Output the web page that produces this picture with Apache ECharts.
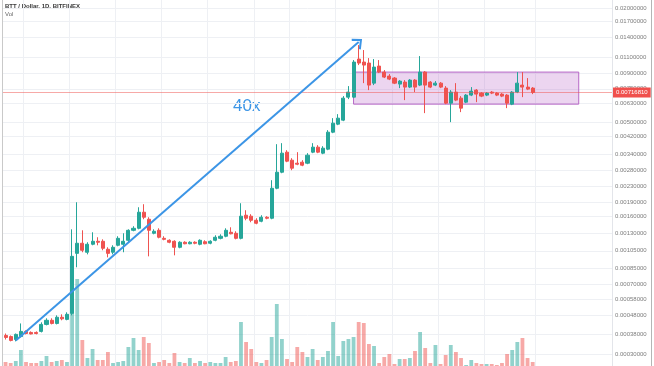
<!DOCTYPE html>
<html><head><meta charset="utf-8">
<script src="https://cdn.jsdelivr.net/npm/echarts@6/dist/echarts.min.js"></script>
<style>html,body{margin:0;padding:0;background:#fff}#c{width:654px;height:366px}</style>
</head><body><div id="c"></div>
<script>
// ---- data ----
const opens = [0.000376,0.000371,0.000358,0.000371,0.000395,0.000390,0.000390,0.000395,0.000430,0.000452,
0.000435,0.000469,0.000457,0.000492,0.001018,0.001151,0.001032,0.001137,0.001179,0.001179,
0.001070,0.001032,0.001123,0.001137,0.001193,0.001347,0.001380,0.001677,0.001540,0.001299,
0.001347,0.001222,0.001193,0.001179,0.001096,0.001165,0.001144,0.001165,0.001137,0.001172,
0.001151,0.001193,0.001222,0.001253,0.001315,0.001299,0.001222,0.001617,0.001598,0.001521,
0.001503,0.001578,0.001559,0.002243,0.002725,0.003475,0.003153,0.003040,0.003077,0.003040,
0.003475,0.003693,0.003433,0.003604,0.004429,0.004882,0.005125,0.006776,0.006776,0.010751,
0.010367,0.010242,0.008030,0.009875,0.009181,0.008746,0.008537,0.007936,0.008132,0.007652,
0.008331,0.007840,0.009181,0.008132,0.007840,0.008030,0.007560,0.006300,0.007202,0.006694,
0.006377,0.006943,0.007378,0.007114,0.006943,0.007202,0.007114,0.007028,0.006943,0.006224,
0.007202,0.007840,0.007652,0.007560];
const closes = [0.000367,0.000354,0.000381,0.000395,0.000385,0.000383,0.000385,0.000430,0.000452,0.000435,
0.000469,0.000460,0.000486,0.000982,0.001151,0.001057,0.001137,0.001179,0.001165,0.001083,
0.001018,0.001096,0.001222,0.001179,0.001347,0.001380,0.001677,0.001578,0.001347,0.001331,
0.001238,0.001207,0.001165,0.001096,0.001165,0.001144,0.001165,0.001151,0.001193,0.001144,
0.001179,0.001238,0.001253,0.001347,0.001291,0.001222,0.001598,0.001559,0.001521,0.001467,
0.001578,0.001559,0.002243,0.002725,0.003433,0.003115,0.002861,0.003003,0.002967,0.003350,
0.003693,0.003475,0.003648,0.004429,0.004941,0.005251,0.006694,0.007202,0.010367,0.010242,
0.009996,0.007840,0.009756,0.009181,0.008641,0.008433,0.008030,0.008230,0.007652,0.008331,
0.007652,0.009181,0.007840,0.007652,0.008030,0.007652,0.006300,0.007202,0.006534,0.005929,
0.006943,0.007289,0.007028,0.006859,0.007114,0.007114,0.006943,0.006859,0.006300,0.007202,
0.008030,0.007652,0.007468,0.0071681];
const lows = [0.000358,0.000350,0.000350,0.000367,0.000381,0.000381,0.000381,0.000390,0.000425,0.000430,
0.000430,0.000452,0.000452,0.000480,0.000860,0.001032,0.001006,0.001123,0.001123,0.001057,
0.000970,0.001006,0.001109,0.001032,0.001165,0.001331,0.001363,0.001540,0.000982,0.001283,
0.001222,0.001193,0.001151,0.000994,0.001083,0.001137,0.001137,0.001137,0.001123,0.001137,
0.001137,0.001179,0.001207,0.001238,0.001283,0.001207,0.001207,0.001521,0.001485,0.001449,
0.001485,0.001540,0.001540,0.002217,0.002692,0.003077,0.002792,0.002967,0.002931,0.003003,
0.003433,0.003433,0.003391,0.003560,0.004376,0.004823,0.005063,0.006614,0.006694,0.009996,
0.008030,0.007378,0.007840,0.009071,0.008537,0.008331,0.007936,0.007560,0.006534,0.007560,
0.007202,0.007746,0.005580,0.007560,0.007746,0.007560,0.006224,0.005003,0.006455,0.005648,
0.006300,0.006859,0.006377,0.006776,0.006859,0.007028,0.006859,0.006776,0.005929,0.006149,
0.007114,0.006776,0.007378,0.007028];
const highs = [0.000385,0.000376,0.000385,0.000435,0.000400,0.000395,0.000395,0.000441,0.000463,0.000463,
0.000480,0.000486,0.000498,0.001363,0.001893,0.001347,0.001165,0.001315,0.001238,0.001207,
0.001096,0.001123,0.001253,0.001299,0.001363,0.001415,0.001781,0.001848,0.001578,0.001363,
0.001380,0.001253,0.001207,0.001193,0.001179,0.001179,0.001179,0.001179,0.001207,0.001193,
0.001193,0.001268,0.001283,0.001380,0.001397,0.001331,0.001870,0.001718,0.001637,0.001559,
0.001617,0.001598,0.002473,0.003829,0.003876,0.003560,0.003230,0.003475,0.003153,0.003433,
0.003876,0.003783,0.003737,0.004539,0.005251,0.005512,0.006859,0.007746,0.010622,0.012745,
0.011994,0.010883,0.010751,0.010622,0.009407,0.008961,0.008641,0.008331,0.008331,0.008433,
0.008433,0.011151,0.009294,0.008230,0.008230,0.008132,0.007746,0.007378,0.008030,0.006859,
0.007028,0.007652,0.007468,0.007202,0.007202,0.007289,0.007202,0.007114,0.007028,0.007289,
0.009181,0.009181,0.008537,0.007652];
const volumes = [4,3,5,16,4,3,3,5,10,4,
5,6,4,66,87,26,8,17,6,6,
14,3,4,5,19,28,16,29,23,3,
4,6,3,13,4,3,8,3,5,3,
4,3,3,9,4,5,44,24,17,4,
3,6,29,62,27,7,4,19,14,9,
17,6,9,15,44,10,25,27,29,44,
43,22,20,3,9,12,2,7,7,8,
15,34,18,3,21,2,11,21,14,8,
1,6,3,2,2,2,1,3,12,16,
24,28,8,4];
const priceTicks = [0.02,0.017,0.014,0.011,0.009,0.0075,0.0063,0.005,0.0042,0.0034,0.0028,0.0023,
0.0019,0.0016,0.0013,0.00105,0.00085,0.0007,0.00058,0.00048,0.00038,0.0003,0.00024];
const lastPrice = 0.0071681;
const boxRange = {fromIdx: 68, toIdx: 112, top: 0.009181, bottom: 0.006224};
const arrowFrom = [2, 0.000354];
const arrowTo = [69, 0.01322];
const slotCount = 119;
const categories = [];
{
  const d0 = new Date(Date.UTC(2019, 1, 1));
  for (let i = 0; i < slotCount; i++) {
    const d = new Date(d0.getTime() + i * 86400000);
    categories.push(d.toISOString().slice(0, 10));
  }
}
const vGridIdx = [4, 13, 22, 31, 40, 49, 56, 65, 76, 85, 94, 104];

// ---- chart ----
const UP = '#26a69a', DOWN = '#ef5350';
const candleData = opens.map((o, i) => [o, closes[i], lows[i], highs[i]]);
const volData = volumes.map((v, i) => ({
  value: v,
  itemStyle: {color: closes[i] >= opens[i] ? 'rgba(38,166,154,0.5)' : 'rgba(239,83,80,0.5)'}
}));

const chart = echarts.init(document.getElementById('c'), null, {renderer: 'canvas'});
chart.setOption({
  animation: false,
  backgroundColor: '#ffffff',
  textStyle: {fontFamily: 'Liberation Sans'},
  grid: [
    {left: 3, right: 42, top: 0, bottom: 0},
    {left: 3, right: 42, top: 266, bottom: 0}
  ],
  xAxis: [
    {type: 'category', data: categories, gridIndex: 0, boundaryGap: true,
     axisLine: {show: false}, axisTick: {show: false}, axisLabel: {show: false},
     splitLine: {show: true, interval: (i) => vGridIdx.includes(i), lineStyle: {color: '#eef0f4', width: 1}}},
    {type: 'category', data: categories, gridIndex: 1, boundaryGap: true, show: false}
  ],
  yAxis: [
    {type: 'log', logBase: 10, gridIndex: 0, position: 'right',
     min: 0.0002596, max: 0.022015,
     axisLine: {show: true, lineStyle: {color: '#e3e5ea'}},
     axisTick: {show: false, customValues: priceTicks},
     axisLabel: {customValues: priceTicks, formatter: (v) => Number(v).toFixed(8),
                 fontSize: 6, color: '#7d7d7d', margin: 3, fontFamily: 'Liberation Sans'},
     splitLine: {show: true, lineStyle: {color: '#eef0f4', width: 1}}},
    {type: 'value', gridIndex: 1, min: 0, max: 100, show: false}
  ],
  series: [
    {type: 'bar', name: 'Vol', xAxisIndex: 1, yAxisIndex: 1, data: volData,
     barWidth: 3.8, z: 1, silent: true},
    {type: 'candlestick', name: 'BTT/USD', xAxisIndex: 0, yAxisIndex: 0, data: candleData,
     barWidth: 3.6, z: 3,
     itemStyle: {color: UP, color0: DOWN, borderColor: UP, borderColor0: DOWN, borderWidth: 1},
     markArea: {
       silent: true,
       itemStyle: {color: 'rgba(186,104,200,0.28)', borderColor: '#b667c6', borderWidth: 1},
       data: [[{coord: [boxRange.fromIdx, boxRange.top]}, {coord: [boxRange.toIdx, boxRange.bottom]}]]
     },
     markLine: {
       silent: true,
       precision: 10,
       symbol: ['none', 'none'],
       animation: false,
       label: {show: false},
       data: [
         {yAxis: lastPrice,
          lineStyle: {color: 'rgba(239,83,80,0.5)', width: 1, type: 'solid'},
          label: {show: true, position: 'end', distance: 1, formatter: lastPrice.toFixed(8),
                  backgroundColor: '#f0504d', color: '#ffffff', fontSize: 6, padding: [2, 3, 2, 3],
                  fontFamily: 'Liberation Sans'}},
         [
           {coord: arrowFrom, symbol: 'none',
            lineStyle: {color: '#3c95e6', width: 2, type: 'solid'}},
           {coord: arrowTo, symbol: 'path://M10,0 L20,12 L17.6,14 L10,4.6 L2.4,14 L0,12 Z', symbolSize: [14, 9]}
         ]
       ]
     }
    }
  ],
  graphic: [
    {type: 'text', left: 5, top: 3, silent: true,
     style: {text: 'BTT / Dollar, 1D, BITFINEX', fontSize: 6, fontWeight: 'bold', fill: '#3a3a3a', fontFamily: 'Liberation Sans'}},
    {type: 'text', left: 5, top: 11, silent: true,
     style: {text: 'Vol', fontSize: 6, fill: '#666', fontFamily: 'Liberation Sans'}},
    {type: 'text', left: 233, top: 98, silent: true,
     style: {text: '40x', fontSize: 17, fill: '#3c95e6', fontFamily: 'Liberation Sans'}},
    {type: 'line', silent: true, shape: {x1: 2.5, y1: 0, x2: 2.5, y2: 366}, style: {stroke: '#c9c9c9', lineWidth: 1}},
    {type: 'line', silent: true, shape: {x1: 651.5, y1: 0, x2: 651.5, y2: 366}, style: {stroke: '#b5b5b5', lineWidth: 1}}
  ]
});
</script>
</body></html>
